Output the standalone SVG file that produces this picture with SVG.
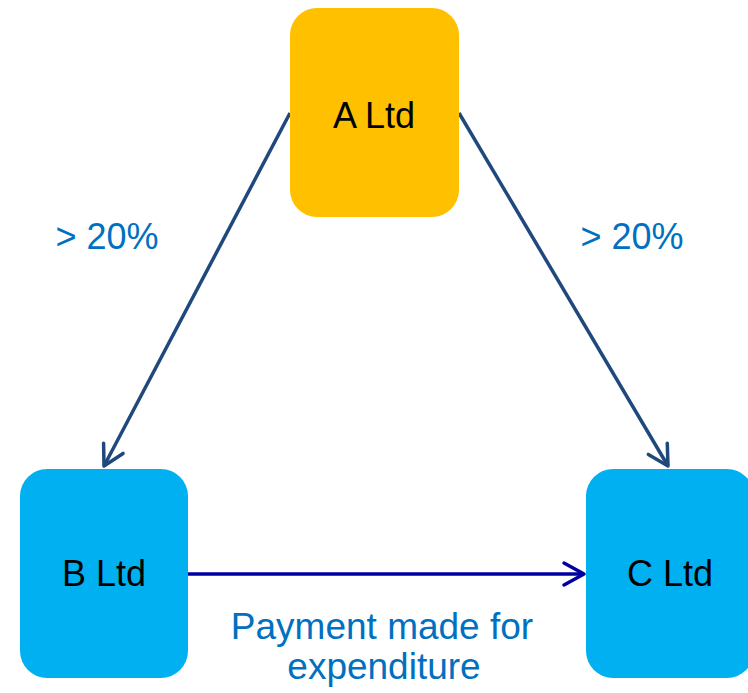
<svg xmlns="http://www.w3.org/2000/svg" width="748" height="693" viewBox="0 0 748 693">
  <style>
    .node-label { font-family: "Liberation Sans", Arial, sans-serif; font-size: 36px; fill: #000000; text-anchor: middle; }
    .edge-label { font-family: "Liberation Sans", Arial, sans-serif; font-size: 36px; fill: #0070C0; text-anchor: middle; }
    .pay-label { font-size: 37px; }
    .diag { stroke: #1F497D; stroke-width: 3.5; fill: none; }
    .pay { stroke: #0000A0; stroke-width: 3.5; fill: none; }
  </style>
  <defs>
    <marker id="arrowDiag" markerUnits="userSpaceOnUse" viewBox="-24 -14 28 28" refX="0" refY="0" markerWidth="28" markerHeight="28" orient="auto">
      <path d="M -20 -11 L 0 0 L -20 11" fill="none" stroke="#1F497D" stroke-width="3.5" stroke-linecap="round" stroke-linejoin="round"/>
    </marker>
    <marker id="arrowPay" markerUnits="userSpaceOnUse" viewBox="-24 -14 28 28" refX="0" refY="0" markerWidth="28" markerHeight="28" orient="auto">
      <path d="M -20 -11 L 0 0 L -20 11" fill="none" stroke="#0000A0" stroke-width="3.5" stroke-linecap="round" stroke-linejoin="round"/>
    </marker>
  </defs>
  <rect width="748" height="693" fill="#FFFFFF"/>
  <g id="connectors">
    <line class="diag" x1="290" y1="113" x2="104" y2="466" marker-end="url(#arrowDiag)"/>
    <line class="diag" x1="459" y1="113" x2="668" y2="466" marker-end="url(#arrowDiag)"/>
    <line class="pay" x1="188" y1="574" x2="584" y2="574" marker-end="url(#arrowPay)"/>
    <text class="edge-label" x="107" y="249">&gt; 20%</text>
    <text class="edge-label" x="632" y="249">&gt; 20%</text>
    <text class="edge-label pay-label" x="382" y="639">Payment made for</text>
    <text class="edge-label pay-label" x="384" y="679">expenditure</text>
  </g>
  <g id="node-a">
    <rect x="290" y="8" width="169" height="209" rx="27" ry="27" fill="#FFC000"/>
    <text class="node-label" x="374" y="128">A Ltd</text>
  </g>
  <g id="node-b">
    <rect x="20" y="469" width="168" height="209" rx="27" ry="27" fill="#00B0F0"/>
    <text class="node-label" x="104" y="586">B Ltd</text>
  </g>
  <g id="node-c">
    <rect x="586" y="469" width="168" height="209" rx="27" ry="27" fill="#00B0F0"/>
    <text class="node-label" x="670" y="586">C Ltd</text>
  </g>
</svg>
